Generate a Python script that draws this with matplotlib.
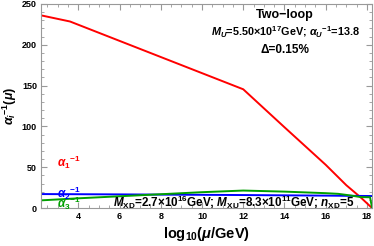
import numpy as np
import matplotlib.pyplot as plt
from matplotlib.ticker import MultipleLocator

plt.rcParams["font.family"] = ["Liberation Sans", "DejaVu Sans"]
plt.rcParams["mathtext.fontset"] = "custom"
plt.rcParams["mathtext.rm"] = "Liberation Sans:bold"
plt.rcParams["mathtext.bf"] = "Liberation Sans:bold"
plt.rcParams["mathtext.it"] = "Liberation Sans:italic:bold"
plt.rcParams["mathtext.default"] = "rm"

# log10(mu/GeV) and inverse couplings
x1 = [2.2, 3.6, 12.0, 14.0, 16.0, 17.0, 17.7, 18.25]
a1 = [236, 228.5, 145.5, 99, 53, 28, 13, 0]

x2 = [2.2, 6.0, 12.0, 16.0, 18.25]
a2 = [17.2, 16.8, 16.0, 15.3, 14.8]

x3 = [2.2, 4.0, 6.0, 8.0, 10.0, 12.0, 14.0, 16.0, 16.6, 17.2, 17.7, 18.15, 18.25]
a3 = [9.5, 12.0, 14.5, 17.0, 19.5, 21.5, 20.2, 18.3, 17.5, 15.5, 13.5, 13.3, 0]

fig = plt.figure(figsize=(3.74, 2.46), dpi=100)
ax = fig.add_axes([0.110, 0.154, 0.885, 0.830])

ax.plot(x1, a1, color="#ff0000", lw=1.4)
ax.plot(x2, a2, color="#0000ff", lw=1.4)
ax.plot(x3, a3, color="#00a000", lw=1.4)

ax.set_xlim(2.2, 18.25)
ax.set_ylim(0, 250)
ax.xaxis.set_major_locator(MultipleLocator(2))
ax.xaxis.set_minor_locator(MultipleLocator(0.5))
ax.yaxis.set_major_locator(MultipleLocator(50))
ax.yaxis.set_minor_locator(MultipleLocator(10))
ax.tick_params(which="both", direction="in", top=True, right=True,
               color="#999999", labelsize=6.5, pad=3)
ax.tick_params(which="major", length=4)
ax.tick_params(which="minor", length=2)
for lab in ax.get_xticklabels() + ax.get_yticklabels():
    lab.set_fontweight("bold")
for sp in ax.spines.values():
    sp.set_color("#999999")

ax.set_xlabel(r"log$_{10}$($\mathit{\mu}$/GeV)", fontsize=10.5, fontweight="bold", labelpad=3)
ax.set_ylabel(r"$\mathit{\alpha_i}^{-1}$($\mathit{\mu}$)", fontsize=9, fontweight="bold", labelpad=2)

ax.text(0.737, 0.945, "Two\u2212loop", transform=ax.transAxes, ha="center",
        va="center", fontsize=9, fontweight="bold")
ax.text(0.737, 0.86, r"$\mathit{M_U}$=5.50$\times$10$^{17}$GeV; $\mathit{\alpha_U}^{-1}$=13.8",
        transform=ax.transAxes, ha="center", va="center", fontsize=7.8, fontweight="bold")
ax.text(0.737, 0.775, "\u0394=0.15%", transform=ax.transAxes,
        ha="center", va="center", fontsize=8.5, fontweight="bold")
ax.text(0.582, 0.03,
        r"$\mathit{M}_{XD}$=2.7$\times$10$^{16}$GeV; $\mathit{M}_{XU}$=8.3$\times$10$^{11}$GeV; $\mathit{n}_{XD}$=5",
        transform=ax.transAxes, ha="center", va="center", fontsize=8.4, fontweight="bold")

ax.text(2.95, 50, r"$\mathit{\alpha}_1$$^{-1}$", color="#ff0000", fontsize=8.5)
ax.text(2.95, 12, r"$\mathit{\alpha}_2$$^{-1}$", color="#0000ff", fontsize=8.5)
ax.text(2.95, 0, r"$\mathit{\alpha}_3$$^{-1}$", color="#00a000", fontsize=8.5)

fig.savefig("out.png", dpi=100)
